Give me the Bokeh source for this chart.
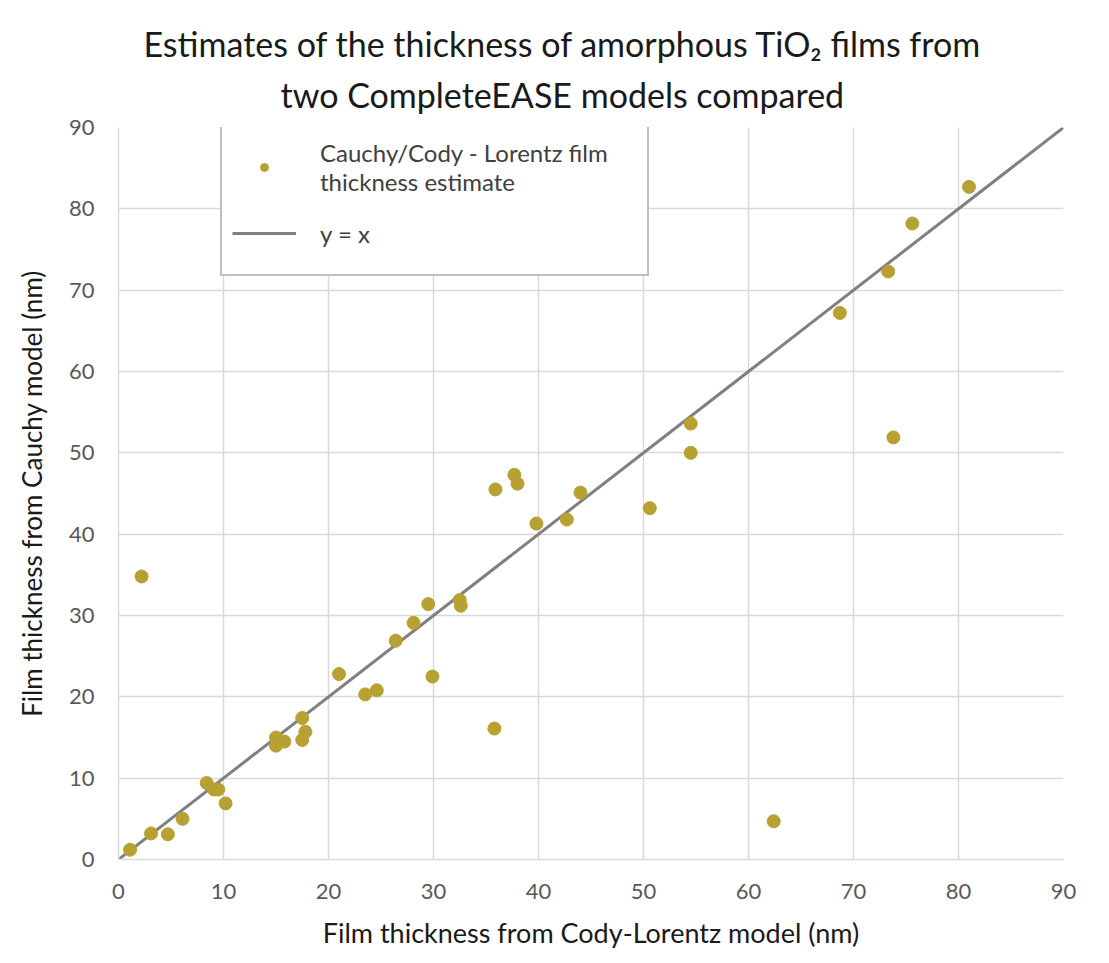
from bokeh.plotting import figure
from bokeh.models import Range1d, FixedTicker, Legend, LegendItem, Title
from bokeh.embed import file_html
from bokeh.resources import INLINE

# Data
cody_lorentz = [1.1, 2.2, 3.1, 4.7, 6.1, 8.4, 9.1, 9.5, 10.2, 15.0, 15.0, 15.8,
                17.5, 17.8, 17.5, 21.0, 23.5, 24.6, 26.4, 28.1, 29.5, 29.9, 32.5,
                32.6, 35.8, 35.9, 37.7, 38.0, 39.8, 42.7, 44.0, 50.6, 54.5, 54.5,
                62.4, 68.7, 73.3, 73.8, 75.6, 81.0]
cauchy = [1.2, 34.8, 3.2, 3.1, 5.0, 9.4, 8.6, 8.6, 6.9, 15.0, 14.0, 14.5,
          17.4, 15.7, 14.7, 22.8, 20.3, 20.8, 26.9, 29.1, 31.4, 22.5, 31.9,
          31.2, 16.1, 45.5, 47.3, 46.2, 41.3, 41.8, 45.1, 43.2, 53.6, 50.0,
          4.7, 67.2, 72.3, 51.9, 78.2, 82.7]
identity_x = [0, 90]
identity_y = [0, 90]
ticks = [0, 10, 20, 30, 40, 50, 60, 70, 80, 90]

FONT = "Lato"

p = figure(width=1109, height=963, output_backend="svg", toolbar_location=None,
           x_range=Range1d(0, 90), y_range=Range1d(0, 90),
           min_border_left=118, min_border_right=46, min_border_bottom=104,
           min_border_top=127)

p.outline_line_color = None
p.background_fill_color = "white"
p.border_fill_color = "white"

line_r = p.line(identity_x, identity_y, line_color="#808080", line_width=3)
pts_r = p.scatter(cody_lorentz, cauchy, size=13, fill_color="#B8A133",
                  line_color="#B8A133")

for ax in (p.xaxis[0], p.yaxis[0]):
    ax.ticker = FixedTicker(ticks=ticks)
    ax.axis_line_color = "#D9D9D9"
    ax.axis_line_width = 1.5
    ax.major_tick_line_color = None
    ax.minor_tick_line_color = None
    ax.major_label_text_font = FONT
    ax.major_label_text_font_size = "22px"
    ax.major_label_text_color = "#595959"
    ax.axis_label_text_font = FONT
    ax.axis_label_text_font_style = "normal"
    ax.axis_label_text_color = "#1A1A1A"

p.xaxis.axis_label = "Film thickness from Cody-Lorentz model (nm)"
p.yaxis.axis_label = "Film thickness from Cauchy model (nm)"
p.xaxis.axis_label_text_font_size = "27px"
p.yaxis.axis_label_text_font_size = "26px"
p.xaxis.major_label_standoff = 18
p.yaxis.major_label_standoff = 18
p.xaxis.axis_label_standoff = 14
p.yaxis.axis_label_standoff = 18

p.grid.grid_line_color = "#D9D9D9"
p.grid.grid_line_width = 1.5
p.xgrid.ticker = FixedTicker(ticks=ticks)
p.ygrid.ticker = FixedTicker(ticks=ticks)

t2 = Title(text="two CompleteEASE models compared", align="left",
           text_font=FONT, text_font_size="34px", text_font_style="normal",
           text_color="#1A1A1A", standoff=26, offset=162)
t1 = Title(text="Estimates of the thickness of amorphous TiO\u2082 films from",
           align="left", text_font=FONT, text_font_size="34px",
           text_font_style="normal", text_color="#1A1A1A", standoff=-10,
           offset=25)
p.add_layout(t2, "above")
p.add_layout(t1, "above")

legend = Legend(items=[
    LegendItem(label="Cauchy/Cody - Lorentz film\nthickness estimate", renderers=[pts_r]),
    LegendItem(label="y = x", renderers=[line_r]),
], location=(102, 583))
legend.border_line_color = "#808080"
legend.border_line_width = 2
legend.background_fill_color = "white"
legend.background_fill_alpha = 1
legend.label_text_font = FONT
legend.label_text_font_size = "24px"
legend.label_text_color = "#404040"
legend.padding = 10
legend.spacing = 4
legend.margin = 0
legend.glyph_width = 64
legend.label_standoff = 24
legend.label_width = 317
legend.label_height = 62
p.add_layout(legend)

open("out.html", "w").write(file_html(p, INLINE))
